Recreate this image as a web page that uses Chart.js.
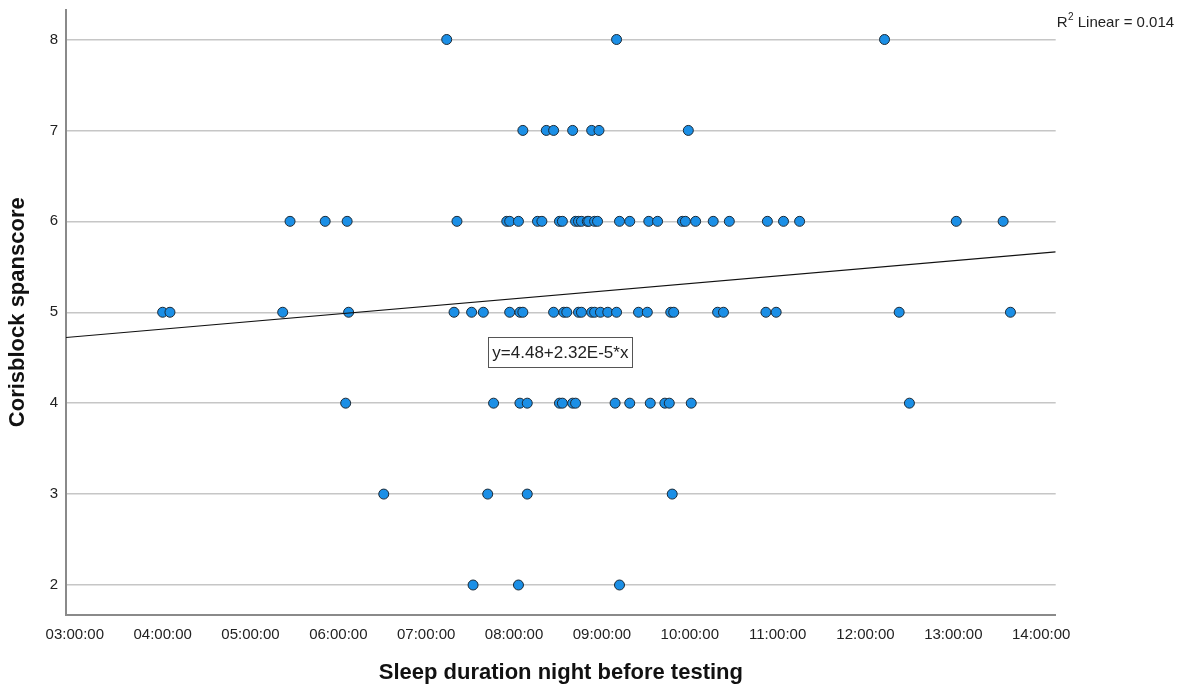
<!DOCTYPE html>
<html>
<head>
<meta charset="utf-8">
<title>Corsi block span score by sleep duration</title>
<script src="https://cdn.jsdelivr.net/npm/chart.js@4/dist/chart.umd.min.js"></script>
<style>
  html, body { margin: 0; padding: 0; background: #ffffff; }
  #wrap { width: 1184px; height: 688px; position: relative; }
</style>
</head>
<body>
<div id="wrap"><canvas id="chart" width="1184" height="688"></canvas></div>
<script>
// Sleep duration (hh:mm) of each participant, grouped by Corsi block span score
const sleepAtScore2 = ['07:32', '08:03', '09:12'];
const sleepAtScore3 = ['06:31', '07:42', '08:09', '09:48'];
const sleepAtScore4 = ['06:05', '07:46', '08:04', '08:09', '08:31', '08:33', '08:40', '08:42',
                       '09:09', '09:19', '09:33', '09:43', '09:46', '10:01', '12:30'];
const sleepAtScore5 = ['04:00', '04:05', '05:22', '06:07', '07:19', '07:31', '07:39', '07:57',
                       '08:04', '08:06', '08:27', '08:34', '08:36', '08:44', '08:46', '08:53',
                       '08:55', '08:59', '09:04', '09:10', '09:25', '09:31', '09:47', '09:49',
                       '10:19', '10:23', '10:52', '10:59', '12:23', '13:39'];
const sleepAtScore6 = ['05:27', '05:51', '06:06', '07:21', '07:55', '07:57', '08:03', '08:16',
                       '08:19', '08:31', '08:33', '08:42', '08:44', '08:46', '08:50', '08:51',
                       '08:55', '08:57', '09:12', '09:19', '09:32', '09:38', '09:55', '09:57',
                       '10:04', '10:16', '10:27', '10:53', '11:04', '11:15', '13:02', '13:34'];
const sleepAtScore7 = ['08:06', '08:22', '08:27', '08:40', '08:53', '08:58', '09:59'];
const sleepAtScore8 = ['07:14', '09:10', '12:13'];

const spanScores = [2, 3, 4, 5, 6, 7, 8];
const sleepGroups = [sleepAtScore2, sleepAtScore3, sleepAtScore4, sleepAtScore5,
                     sleepAtScore6, sleepAtScore7, sleepAtScore8];

// Axis ticks (hours) and their labels
const xTickHours = [3, 4, 5, 6, 7, 8, 9, 10, 11, 12, 13, 14];
const xTickLabels = ['03:00:00', '04:00:00', '05:00:00', '06:00:00', '07:00:00', '08:00:00',
                     '09:00:00', '10:00:00', '11:00:00', '12:00:00', '13:00:00', '14:00:00'];
const yTickValues = [2, 3, 4, 5, 6, 7, 8];

// Linear fit (x measured in seconds)
const fitIntercept = 4.48;
const fitSlopePerSecond = 2.32e-5;
const fitRSquared = 0.014;

const X_MIN = 2.9, X_MAX = 14.165;
const Y_MIN = 1.67, Y_MAX = 8.33;

const FONT = '"Liberation Sans", Arial, Helvetica, sans-serif';

function toHours(hhmm) {
  const [h, m] = hhmm.split(':').map(Number);
  return h + m / 60;
}
function fitAt(hours) {
  return fitIntercept + fitSlopePerSecond * hours * 3600;
}

const points = [];
spanScores.forEach((score, i) => {
  sleepGroups[i].forEach(t => points.push({ x: toHours(t), y: score }));
});

const equationText = 'y=' + fitIntercept.toFixed(2) + '+' +
  (fitSlopePerSecond / 1e-5).toFixed(2) + 'E-5*x';
// equation label anchored in data space near the fit line
const equationAnchor = { x: 8.527, y: 4.564 };

const fitLabels = {
  id: 'fitLabels',
  afterDatasetsDraw(chart) {
    const { ctx, chartArea, scales } = chart;
    ctx.save();
    // equation box
    ctx.font = '17px ' + FONT;
    const tw = ctx.measureText(equationText).width;
    const cx = scales.x.getPixelForValue(equationAnchor.x);
    const cy = scales.y.getPixelForValue(equationAnchor.y);
    const bw = tw + 8, bh = 30;
    ctx.fillStyle = '#ffffff';
    ctx.fillRect(cx - bw / 2, cy - bh / 2, bw, bh);
    ctx.strokeStyle = '#555555';
    ctx.lineWidth = 1;
    ctx.strokeRect(Math.round(cx - bw / 2) + 0.5, Math.round(cy - bh / 2) + 0.5, Math.round(bw), Math.round(bh));
    ctx.fillStyle = '#222222';
    ctx.textAlign = 'center';
    ctx.textBaseline = 'middle';
    ctx.fillText(equationText, cx, cy + 1);

    // R squared note
    let x = chartArea.right + 1;
    const base = 27;
    ctx.textAlign = 'left';
    ctx.textBaseline = 'alphabetic';
    ctx.font = '15px ' + FONT;
    ctx.fillText('R', x, base);
    x += ctx.measureText('R').width + 0.5;
    ctx.font = '10px ' + FONT;
    ctx.fillText('2', x, base - 7);
    x += ctx.measureText('2').width;
    ctx.font = '15px ' + FONT;
    ctx.fillText(' Linear = ' + fitRSquared.toFixed(3), x, base);
    ctx.restore();
  }
};

new Chart(document.getElementById('chart'), {
  type: 'scatter',
  data: {
    datasets: [
      {
        type: 'line',
        data: [{ x: X_MIN, y: fitAt(X_MIN) }, { x: X_MAX, y: fitAt(X_MAX) }],
        borderColor: '#111111',
        borderWidth: 1.2,
        pointRadius: 0,
        fill: false,
        order: 0
      },
      {
        data: points,
        backgroundColor: '#1b8fe6',
        borderColor: '#1c2a36',
        borderWidth: 1,
        pointRadius: 5,
        order: 1
      }
    ]
  },
  options: {
    responsive: false,
    animation: false,
    devicePixelRatio: 1,
    layout: { padding: { top: 9.5, right: 128.3, left: 0, bottom: 0 } },
    plugins: { legend: { display: false }, tooltip: { enabled: false } },
    scales: {
      x: {
        type: 'linear',
        min: X_MIN,
        max: X_MAX,
        afterBuildTicks(scale) { scale.ticks = xTickHours.map(v => ({ value: v })); },
        afterFit(scale) {
          scale.height = 73;
          scale.paddingLeft = 0;
          scale.paddingRight = 0;
        },
        ticks: {
          autoSkip: false,
          maxRotation: 0,
          padding: 11,
          color: '#222222',
          font: { family: FONT, size: 15 },
          callback(value) {
            const i = xTickHours.indexOf(value);
            return i >= 0 ? xTickLabels[i] : '';
          }
        },
        grid: { display: false, drawTicks: false },
        border: { display: true, color: '#8a8a8a', width: 2 },
        title: {
          display: true,
          text: 'Sleep duration night before testing',
          color: '#111111',
          font: { family: FONT, size: 22, weight: 'bold' },
          padding: { top: 0, bottom: 2 }
        }
      },
      y: {
        min: Y_MIN,
        max: Y_MAX,
        afterBuildTicks(scale) { scale.ticks = yTickValues.map(v => ({ value: v })); },
        afterFit(scale) {
          scale.width = 66;
          scale.paddingTop = 0;
          scale.paddingBottom = 0;
        },
        ticks: {
          padding: 8,
          color: '#222222',
          font: { family: FONT, size: 15 }
        },
        grid: { color: '#c6c6c6', lineWidth: 1.5, drawTicks: false },
        border: { display: true, color: '#8a8a8a', width: 2 },
        title: {
          display: true,
          text: 'Corisblock spanscore',
          color: '#111111',
          font: { family: FONT, size: 22, weight: 'bold' },
          padding: { top: 5, bottom: 0 }
        }
      }
    }
  },
  plugins: [fitLabels]
});
</script>
</body>
</html>
